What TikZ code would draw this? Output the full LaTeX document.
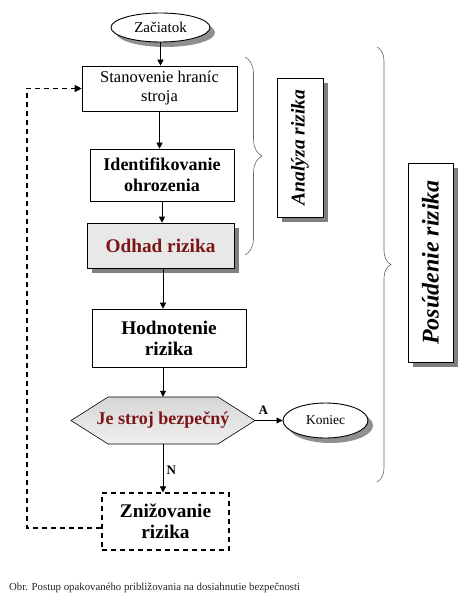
\documentclass[tikz,border=0pt]{standalone}
\usepackage{fontspec}
\usepackage{graphicx}
\setmainfont{Liberation Serif}
\usetikzlibrary{shapes.geometric,decorations.pathreplacing,shadows,arrows.meta,calc}
\definecolor{dred}{RGB}{125,22,22}
\begin{document}
\begin{tikzpicture}[x=1pt,y=-1pt,
  box/.style={draw, line width=0.6pt, fill=white, align=center, inner sep=0pt},
  ell/.style={ellipse, draw, line width=0.9pt, fill=white, inner sep=0pt},
  shad/.style={drop shadow={shadow xshift=5pt, shadow yshift=-5pt, fill=black!50, opacity=1}},
  eshad/.style={drop shadow={shadow xshift=5pt, shadow yshift=-5pt, fill=black!55, opacity=0.8}},
  arr/.style={line width=0.6pt, -{Triangle[length=6pt,width=6pt]}},
  loop/.style={line width=1.2pt, dash pattern=on 5pt off 4pt, -{Triangle[length=7pt,width=7pt]}},
  bracestyle/.style={draw=black!60, line width=0.6pt, decorate},
  fr/.style={font=\fontsize{16.5}{19}\selectfont},
  fb/.style={font=\fontsize{18}{20.5}\selectfont\bfseries},
  fbb/.style={font=\fontsize{19.3}{21}\selectfont\bfseries}
]
\useasboundingbox (0,0) rectangle (474,604);

% start
\node[ell, eshad, minimum width=99, minimum height=29, font=\fontsize{15}{17}\selectfont] (start) at (160.5,27.5) {Začiatok};

% boxes
\node[box, fr, minimum width=155, minimum height=45] (st) at (159.5,88.5) {Stanovenie hraníc\\stroja};
\node[box, fb, minimum width=144, minimum height=52] (id) at (162,175) {Identifikovanie\\ohrozenia};
\node[box, shad, fill=black!9, fbb, text=dred, minimum width=147, minimum height=45] (od) at (160.5,245.5) {Odhad rizika};
\node[box, fbb, minimum width=154, minimum height=58] (ho) at (169,338) {Hodnotenie\\rizika};

% decision hexagon
\coordinate (h1) at (71,420.5);
\coordinate (h2) at (108,397);
\coordinate (h3) at (218,397);
\coordinate (h4) at (255,420.5);
\coordinate (h5) at (218,444);
\coordinate (h6) at (108,444);
\path[draw, line width=0.6pt, top color=black!16, middle color=white, bottom color=black!6] (h1) -- (h2) -- (h3) -- (h4) -- (h5) -- (h6) -- cycle;
\node[minimum width=184, minimum height=47, inner sep=0pt, text=dred, font=\fontsize{18}{20}\selectfont\bfseries] (dec) at (163,420.5) {Je stroj bezpečný};

% end
\node[ell, eshad, minimum width=85, minimum height=35, font=\fontsize{13.5}{15}\selectfont] (ko) at (325.5,420.5) {Koniec};

% reduction
\node[box, fbb, line width=1.2pt, dash pattern=on 5pt off 4pt, minimum width=127, minimum height=57] (zn) at (165.5,521.5) {Znižovanie\\rizika};

% side labels
\node[box, shad, minimum width=46, minimum height=139] (an) at (300,147.5) {\rotatebox{90}{\fontsize{19.5}{22}\selectfont\bfseries\itshape Analýza rizika}};
\node[box, shad, minimum width=45, minimum height=199] (po) at (430.5,262.5) {\rotatebox{90}{\fontsize{24}{26}\selectfont\bfseries\itshape Posúdenie rizika}};

% braces
\coordinate (b1a) at (245,57);
\coordinate (b1b) at (245,255);
\draw[bracestyle, decoration={brace, amplitude=17pt}] (b1a) -- (b1b);
\coordinate (b2a) at (377,47);
\coordinate (b2b) at (377,482);
\draw[bracestyle, decoration={brace, amplitude=14pt}] (b2a) -- (b2b);

% connectors
\draw[arr] (start.south) -- (start.south |- st.north);
\draw[arr] (st.south) -- (st.south |- id.north);
\draw[arr] (id.south) -- (id.south |- od.north);
\draw[arr] (od.south -| dec.north) -- (ho.north -| dec.north);
\draw[arr] (ho.south -| dec.north) -- (dec.north);
\draw[arr] (dec.east) -- node[above, pos=0.3, yshift=2pt, font=\fontsize{13}{15}\selectfont\bfseries] (la) {A} (ko.west);
\draw[arr] (dec.south) -- node[right, pos=0.55, font=\fontsize{13}{15}\selectfont\bfseries] (ln) {N} (dec.south |- zn.north);

\coordinate (lp) at (27,528);
\draw[loop] ($(zn.west)+(0,6.5)$) -- (lp) |- (st.west);

% caption
\node[anchor=west, inner sep=0pt, font=\fontsize{10.8}{12}\selectfont, text=black!85] (cap) at (9,588) {Obr. Postup opakovaného približovania na dosiahnutie bezpečnosti};
\end{tikzpicture}
\end{document}
